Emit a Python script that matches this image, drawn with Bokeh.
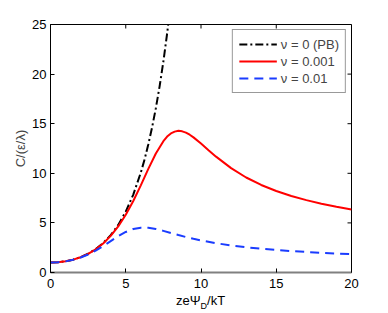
import math
from bokeh.plotting import figure
from bokeh.models import LinearAxis, Range1d, Legend, LegendItem, FixedTicker, Div
from bokeh.layouts import column
from bokeh.embed import file_html
from bokeh.resources import INLINE

# ---- data ----
x_pb = [0, 0.5, 1, 1.5, 2, 2.5, 3, 3.5, 4, 4.5, 5, 5.5, 6, 6.25, 6.5, 6.75, 7, 7.25, 7.5, 7.75, 8]
y_pb = [1.0, 1.031, 1.128, 1.295, 1.543, 1.888, 2.352, 2.964, 3.762, 4.797, 6.132, 7.853,
        10.07, 11.40, 12.92, 14.63, 16.57, 18.77, 21.27, 24.10, 27.31]

x_r = [0, 0.5, 1, 1.5, 2, 2.5, 3, 3.5, 4, 4.5, 5, 5.5, 6, 6.5, 7, 7.5, 7.75, 8, 8.25, 8.5,
       8.75, 9, 9.25, 9.5, 10, 10.5, 11, 12, 13, 14, 15, 16, 17, 18, 19, 20]
y_r = [1.0, 1.031, 1.127, 1.294, 1.541, 1.881, 2.336, 2.929, 3.690, 4.645, 5.816, 7.209,
       8.784, 10.44, 11.99, 13.24, 13.70, 14.02, 14.20, 14.28, 14.23, 14.10, 13.89, 13.62,
       13.00, 12.33, 11.68, 10.52, 9.576, 8.824, 8.215, 7.716, 7.294, 6.934, 6.623, 6.350]

x_b = [0, 0.5, 1, 1.5, 2, 2.5, 3, 3.5, 4, 4.5, 5, 5.5, 6, 6.5, 7, 7.5, 8, 8.5, 9, 9.5,
       10, 11, 12, 13, 14, 15, 16, 17, 18, 19, 20]
y_b = [1.0, 1.031, 1.123, 1.282, 1.512, 1.819, 2.204, 2.660, 3.161, 3.659, 4.087, 4.385,
       4.521, 4.506, 4.382, 4.197, 3.987, 3.776, 3.576, 3.393, 3.229, 2.951, 2.731, 2.548,
       2.397, 2.270, 2.162, 2.067, 1.984, 1.910, 1.844]

labels = ["\u03bd = 0 (PB)", "\u03bd = 0.001", "\u03bd = 0.01"]
x_ticks = [0, 5, 10, 15, 20]
y_ticks = [0, 5, 10, 15, 20, 25]
y_label = "C/(\u03b5/\u03bb)"
x_label_html = "ze\u03a8<sub style='font-size:9px'>D</sub>/kT"

FONT = "Liberation Sans"
FS = "13px"

p = figure(width=388, height=293, output_backend="svg", toolbar_location=None,
           x_range=Range1d(x_ticks[0], x_ticks[-1]), y_range=Range1d(y_ticks[0], y_ticks[-1]),
           min_border_left=50, min_border_right=37, min_border_top=24, min_border_bottom=21,
           x_axis_location=None, y_axis_location=None)
p.grid.visible = False
p.outline_line_color = "black"
p.outline_line_width = 1
p.background_fill_color = "white"
p.border_fill_color = "white"


def style_axis(ax, ticks):
    ax.ticker = FixedTicker(ticks=ticks)
    ax.major_tick_in = 4
    ax.major_tick_out = 0
    ax.minor_tick_line_color = None
    ax.major_tick_line_color = "black"
    ax.major_label_text_font = FONT
    ax.major_label_text_font_size = FS
    ax.major_label_text_color = "black"
    ax.axis_label_text_font = FONT
    ax.axis_label_text_font_size = FS
    ax.axis_label_text_font_style = "normal"


xb = LinearAxis()
style_axis(xb, x_ticks)
xb.axis_line_color = "#808080"
xb.axis_line_width = 2
xb.major_label_standoff = 6
p.add_layout(xb, "below")

yl = LinearAxis()
style_axis(yl, y_ticks)
yl.axis_line_color = "black"
yl.axis_label = y_label
yl.major_label_standoff = 4
yl.axis_label_standoff = 1
p.add_layout(yl, "left")

# inward ticks on the top and right edges of the box
p.ray(x=x_ticks, y=[y_ticks[-1]] * len(x_ticks), length=4, length_units="screen",
      angle=-math.pi / 2, line_color="black", line_width=1)
p.ray(x=[x_ticks[-1]] * len(y_ticks), y=y_ticks, length=4, length_units="screen",
      angle=math.pi, line_color="black", line_width=1)

r_pb = p.line(x_pb, y_pb, line_color="black", line_width=2, line_dash="8 3 2 3")
r_r = p.line(x_r, y_r, line_color="#ff0000", line_width=2)
r_b = p.line(x_b, y_b, line_color="#1a3cff", line_width=2, line_dash="9 6")

legend = Legend(items=[LegendItem(label=labels[0], renderers=[r_pb]),
                       LegendItem(label=labels[1], renderers=[r_r]),
                       LegendItem(label=labels[2], renderers=[r_b])],
                location="top_right", margin=5, padding=6, spacing=1,
                glyph_width=38, glyph_height=16, label_height=16, label_standoff=4,
                label_text_font=FONT, label_text_font_size=FS,
                border_line_color="#333333", border_line_width=1,
                background_fill_color="white", background_fill_alpha=1)
p.add_layout(legend, "center")

xlabel = Div(text=x_label_html, width=388, height=20, margin=0,
             styles={"font-family": FONT, "font-size": FS, "line-height": "15px",
                     "padding-left": "176px", "color": "black"})

layout = column(p, xlabel, spacing=0)
open("out.html", "w").write(file_html(layout, INLINE))
